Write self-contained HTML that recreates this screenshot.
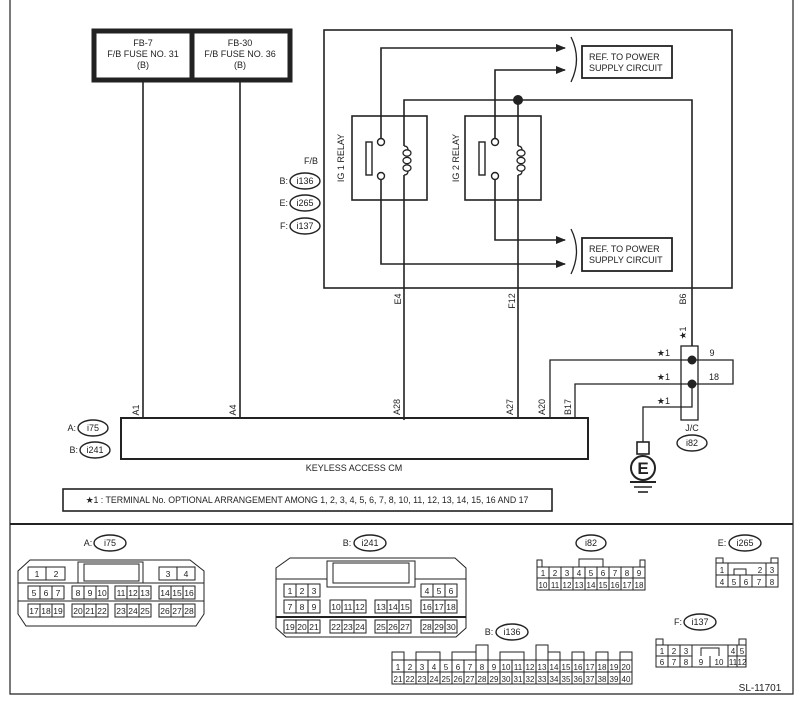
<!DOCTYPE html>
<html><head><meta charset="utf-8"><style>
html,body{margin:0;padding:0;background:#fff}
svg{display:block;font-family:"Liberation Sans",Arial,sans-serif}
text{fill:#222}
</style></head><body>
<svg width="803" height="704" viewBox="0 0 803 704" xmlns="http://www.w3.org/2000/svg">
<defs>
<marker id="ar" markerWidth="10" markerHeight="8" refX="9" refY="4" orient="auto" markerUnits="userSpaceOnUse">
<path d="M0,0 L10,4 L0,8 Z" fill="#222"/></marker>
</defs>
<g stroke="#222" fill="none">
<path d="M10,0 V694 H793 V0" stroke-width="1.2"/>
<line x1="10" y1="524" x2="793" y2="524" stroke-width="2"/>
<rect x="94" y="31" width="196" height="49" stroke-width="5" fill="#fff"/>
<line x1="192" y1="31" x2="192" y2="80" stroke-width="5"/>
<rect x="324" y="30" width="408" height="258" stroke-width="1.6"/>
<rect x="352" y="116" width="75" height="84" stroke-width="1.6" fill="#fff"/>
<rect x="465" y="116" width="76" height="84" stroke-width="1.6" fill="#fff"/>
<g stroke-width="1.6">
<line x1="143" y1="80" x2="143" y2="418"/>
<line x1="240" y1="80" x2="240" y2="418"/>
<path d="M381,138 V48 H565" marker-end="url(#ar)"/>
<path d="M495,138 V70 H565" marker-end="url(#ar)"/>
<path d="M381,180 V264 H565" marker-end="url(#ar)"/>
<path d="M495,180 V240 H565" marker-end="url(#ar)"/>
<path d="M404,146 V100 H692 V346"/>
<path d="M518,100 V146"/>
<path d="M404,175 V420"/>
<path d="M518,175 V418"/>
</g>
<circle cx="518" cy="100" r="4.5" fill="#222"/>
<g stroke-width="1.4" fill="#fff">
<circle cx="381" cy="142" r="3.5"/><circle cx="381" cy="176" r="3.5"/>
<circle cx="495" cy="142" r="3.5"/><circle cx="495" cy="176" r="3.5"/>
<rect x="366" y="142" width="6" height="33"/>
<rect x="479" y="142" width="6" height="33"/>
</g>
<g stroke-width="1.3">
<path d="M404,146 q4,0 4,4"/><path d="M404,175 q4,0 4,-4"/>
<ellipse cx="407" cy="153" rx="4" ry="3.2"/><ellipse cx="407" cy="160.5" rx="4" ry="3.2"/><ellipse cx="407" cy="168" rx="4" ry="3.2"/>
<path d="M518,146 q4,0 4,4"/><path d="M518,175 q4,0 4,-4"/>
<ellipse cx="521" cy="153" rx="4" ry="3.2"/><ellipse cx="521" cy="160.5" rx="4" ry="3.2"/><ellipse cx="521" cy="168" rx="4" ry="3.2"/>
</g>
<path d="M571,37 Q582,59 571,82" stroke-width="1.3"/>
<path d="M571,229 Q582,251 571,274" stroke-width="1.3"/>
<rect x="582" y="46" width="90" height="32" stroke-width="1.8"/>
<rect x="582" y="238" width="90" height="33" stroke-width="1.8"/>
<rect x="121" y="418" width="467" height="41" stroke-width="2"/>
<rect x="681" y="346" width="17" height="74" stroke-width="1.3"/>
<path d="M550,418 V360 H733 V384 H575 V418" stroke-width="1.3"/>
<path d="M692,384 V407 H643 V442" stroke-width="1.3"/>
<circle cx="692" cy="360" r="4" fill="#222"/>
<circle cx="692" cy="384" r="4" fill="#222"/>
<rect x="637" y="442" width="12" height="12" stroke-width="1.6" fill="#fff"/>
<circle cx="643" cy="468" r="12" stroke-width="2" fill="#fff"/>
<line x1="630" y1="482" x2="656" y2="482" stroke-width="2"/>
<line x1="634" y1="487" x2="652" y2="487" stroke-width="1.6"/>
<line x1="638" y1="492" x2="648" y2="492" stroke-width="1.6"/>
<ellipse cx="692" cy="443" rx="15" ry="8" stroke-width="1.4"/>
<g stroke-width="1.4">
<ellipse cx="305" cy="181" rx="15" ry="8"/>
<ellipse cx="305" cy="203" rx="15" ry="8"/>
<ellipse cx="305" cy="226" rx="15" ry="8"/>
<ellipse cx="93" cy="428" rx="15" ry="8"/>
<ellipse cx="95" cy="450" rx="15" ry="8"/>
</g>
<rect x="63" y="489" width="489" height="22" stroke-width="1.6"/>
</g>
<g font-size="9" text-anchor="middle">
<text x="143" y="46">FB-7</text><text x="143" y="57">F/B FUSE NO. 31</text><text x="143" y="68">(B)</text>
<text x="240" y="46">FB-30</text><text x="240" y="57">F/B FUSE NO. 36</text><text x="240" y="68">(B)</text>
<text x="589" y="60" text-anchor="start">REF. TO POWER</text>
<text x="589" y="71" text-anchor="start">SUPPLY CIRCUIT</text>
<text x="589" y="252" text-anchor="start">REF. TO POWER</text>
<text x="589" y="263" text-anchor="start">SUPPLY CIRCUIT</text>
<text x="311" y="164">F/B</text>
<text x="288" y="184" text-anchor="end">B:</text><text x="305" y="184">i136</text>
<text x="288" y="206" text-anchor="end">E:</text><text x="305" y="206">i265</text>
<text x="288" y="229" text-anchor="end">F:</text><text x="305" y="229">i137</text>
<text x="76" y="431" text-anchor="end">A:</text><text x="93" y="431">i75</text>
<text x="78" y="453" text-anchor="end">B:</text><text x="95" y="453">i241</text>
<text x="354" y="471">KEYLESS ACCESS CM</text>
<text x="692" y="431">J/C</text><text x="692" y="446">i82</text>
<text x="307" y="503" font-size="8.8">★1  : TERMINAL No. OPTIONAL ARRANGEMENT AMONG 1, 2, 3, 4, 5, 6, 7, 8, 10, 11, 12, 13, 14, 15, 16 AND 17</text>
<text x="670" y="356" text-anchor="end">★1</text><text x="712" y="356">9</text>
<text x="670" y="380" text-anchor="end">★1</text><text x="714" y="380">18</text>
<text x="670" y="404" text-anchor="end">★1</text>
<text x="760" y="691" font-size="10">SL-11701</text>
<g transform="rotate(-90)">
<text x="-158" y="344">IG 1 RELAY</text>
<text x="-158" y="459">IG 2 RELAY</text>
<text x="-299" y="401">E4</text>
<text x="-301" y="515">F12</text>
<text x="-299" y="686">B6</text>
<text x="-333" y="686">★1</text>
<text x="-410" y="139">A1</text>
<text x="-410" y="236">A4</text>
<text x="-407" y="400">A28</text>
<text x="-407" y="513">A27</text>
<text x="-407" y="545">A20</text>
<text x="-407" y="571">B17</text>
</g>
</g>
<text x="643" y="474" font-size="17" font-weight="bold" text-anchor="middle">E</text>
<g stroke="#222" fill="none" stroke-width="1">
<path d="M30,560 H190 L204,571 V614 L196,626 H26 L18,614 V571 Z"/>
<line x1="18" y1="583" x2="204" y2="583"/><line x1="18" y1="601" x2="204" y2="601"/>
<rect x="78" y="562" width="65" height="21"/><rect x="84" y="564" width="55" height="17"/>
<rect x="28" y="567" width="37" height="13"/><line x1="46" y1="567" x2="46" y2="580"/>
<rect x="159" y="567" width="36" height="13"/><line x1="177" y1="567" x2="177" y2="580"/>
<path d="M290,558 H455 L466,568 V628 L456,637 H286 L276,628 V568 Z"/>
<line x1="276" y1="579" x2="327" y2="579"/><line x1="415" y1="579" x2="466" y2="579"/>
<line x1="276" y1="617" x2="466" y2="617" stroke-width="2"/>
<rect x="327" y="561" width="88" height="26"/><rect x="333" y="563" width="76" height="20"/>
</g>
<g font-size="8.5" text-anchor="middle">
<text x="37" y="577">1</text><text x="56" y="577">2</text><text x="168" y="577">3</text><text x="186" y="577">4</text>
</g>
<g stroke="#222" fill="none" stroke-width="1">
<rect x="28" y="586" width="36" height="13"/><rect x="72" y="586" width="36" height="13"/><rect x="115" y="586" width="36" height="13"/><rect x="159" y="586" width="36" height="13"/>
<rect x="28" y="604" width="36" height="13"/><rect x="72" y="604" width="36" height="13"/><rect x="115" y="604" width="36" height="13"/><rect x="159" y="604" width="36" height="13"/>
<path d="M40,586v13M52,586v13M84,586v13M96,586v13M127,586v13M139,586v13M171,586v13M183,586v13"/>
<path d="M40,604v13M52,604v13M84,604v13M96,604v13M127,604v13M139,604v13M171,604v13M183,604v13"/>
<rect x="284" y="584" width="36" height="13"/><rect x="421" y="584" width="36" height="13"/>
<path d="M296,584v13M308,584v13M433,584v13M445,584v13"/>
<rect x="284" y="600" width="36" height="13"/><rect x="330" y="600" width="36" height="13"/><rect x="375" y="600" width="36" height="13"/><rect x="421" y="600" width="36" height="13"/>
<path d="M296,600v13M308,600v13M342,600v13M354,600v13M387,600v13M399,600v13M433,600v13M445,600v13"/>
<rect x="284" y="620" width="36" height="13"/><rect x="330" y="620" width="36" height="13"/><rect x="375" y="620" width="36" height="13"/><rect x="421" y="620" width="36" height="13"/>
<path d="M296,620v13M308,620v13M342,620v13M354,620v13M387,620v13M399,620v13M433,620v13M445,620v13"/>
<rect x="537" y="567" width="108" height="23"/><line x1="537" y1="578" x2="645" y2="578"/>
<path d="M549,567v23M561,567v23M573,567v23M585,567v23M597,567v23M609,567v23M621,567v23M633,567v23"/>
<path d="M537,567v-7h5v7M640,567v-7h5v7M579,567v-8h24v8"/>
<rect x="392" y="660" width="240" height="24"/><line x1="392" y1="672" x2="632" y2="672"/>
<path d="M404,660v24M416,660v24M428,660v24M440,660v24M452,660v24M464,660v24M476,660v24M488,660v24M500,660v24M512,660v24M524,660v24M536,660v24M548,660v24M560,660v24M572,660v24M584,660v24M596,660v24M608,660v24M620,660v24"/>
<path d="M392,660v-8h12v8M416,660v-8h24v8M452,660v-8h24v8M476,660v-15h12v15M500,660v-8h24v8M536,660v-15h12v15M548,660v-8h12v8M572,660v-8h12v8M596,660v-8h12v8M620,660v-8h12v8"/>
<rect x="716" y="563" width="62" height="24"/><line x1="716" y1="575" x2="778" y2="575"/>
<path d="M728,563v24M740,575v12M752,575v12M766,563v24"/>
<path d="M728,563h12M754,563H766"/>
<path d="M716,563v-5h7v5M771,563v-5h7v5M734,575v-6h12v6"/>
<rect x="656" y="645" width="90" height="22"/>
<path d="M656,656h36M728,656h18M668,645v22M680,645v22M692,645v22M710,656v11M728,645v22M737,645v22"/>
<path d="M656,645v-6h7v6M739,645v-6h7v6M701,656v-8h18v8"/>
</g>
<g font-size="8.5" text-anchor="middle">
<text x="34" y="596">5</text><text x="46" y="596">6</text><text x="58" y="596">7</text>
<text x="78" y="596">8</text><text x="90" y="596">9</text><text x="102" y="596">10</text>
<text x="121" y="596">11</text><text x="133" y="596">12</text><text x="145" y="596">13</text>
<text x="165" y="596">14</text><text x="177" y="596">15</text><text x="189" y="596">16</text>
<text x="34" y="614">17</text><text x="46" y="614">18</text><text x="58" y="614">19</text>
<text x="78" y="614">20</text><text x="90" y="614">21</text><text x="102" y="614">22</text>
<text x="121" y="614">23</text><text x="133" y="614">24</text><text x="145" y="614">25</text>
<text x="165" y="614">26</text><text x="177" y="614">27</text><text x="189" y="614">28</text>
<text x="290" y="594">1</text><text x="302" y="594">2</text><text x="314" y="594">3</text>
<text x="427" y="594">4</text><text x="439" y="594">5</text><text x="451" y="594">6</text>
<text x="290" y="610">7</text><text x="302" y="610">8</text><text x="314" y="610">9</text>
<text x="336" y="610">10</text><text x="348" y="610">11</text><text x="360" y="610">12</text>
<text x="381" y="610">13</text><text x="393" y="610">14</text><text x="405" y="610">15</text>
<text x="427" y="610">16</text><text x="439" y="610">17</text><text x="451" y="610">18</text>
<text x="290" y="630">19</text><text x="302" y="630">20</text><text x="314" y="630">21</text>
<text x="336" y="630">22</text><text x="348" y="630">23</text><text x="360" y="630">24</text>
<text x="381" y="630">25</text><text x="393" y="630">26</text><text x="405" y="630">27</text>
<text x="427" y="630">28</text><text x="439" y="630">29</text><text x="451" y="630">30</text>
</g>
<g font-size="8" text-anchor="middle">
<text x="543" y="576">1</text><text x="555" y="576">2</text><text x="567" y="576">3</text><text x="579" y="576">4</text><text x="591" y="576">5</text><text x="603" y="576">6</text><text x="615" y="576">7</text><text x="627" y="576">8</text><text x="639" y="576">9</text>
<text x="543" y="588">10</text><text x="555" y="588">11</text><text x="567" y="588">12</text><text x="579" y="588">13</text><text x="591" y="588">14</text><text x="603" y="588">15</text><text x="615" y="588">16</text><text x="627" y="588">17</text><text x="639" y="588">18</text>
<text x="398" y="670">1</text><text x="410" y="670">2</text><text x="422" y="670">3</text><text x="434" y="670">4</text><text x="446" y="670">5</text><text x="458" y="670">6</text><text x="470" y="670">7</text><text x="482" y="670">8</text><text x="494" y="670">9</text><text x="506" y="670">10</text><text x="518" y="670">11</text><text x="530" y="670">12</text><text x="542" y="670">13</text><text x="554" y="670">14</text><text x="566" y="670">15</text><text x="578" y="670">16</text><text x="590" y="670">17</text><text x="602" y="670">18</text><text x="614" y="670">19</text><text x="626" y="670">20</text>
<text x="398" y="682">21</text><text x="410" y="682">22</text><text x="422" y="682">23</text><text x="434" y="682">24</text><text x="446" y="682">25</text><text x="458" y="682">26</text><text x="470" y="682">27</text><text x="482" y="682">28</text><text x="494" y="682">29</text><text x="506" y="682">30</text><text x="518" y="682">31</text><text x="530" y="682">32</text><text x="542" y="682">33</text><text x="554" y="682">34</text><text x="566" y="682">35</text><text x="578" y="682">36</text><text x="590" y="682">37</text><text x="602" y="682">38</text><text x="614" y="682">39</text><text x="626" y="682">40</text>
<text x="722" y="573">1</text><text x="760" y="573">2</text><text x="772" y="573">3</text>
<text x="722" y="585">4</text><text x="734" y="585">5</text><text x="746" y="585">6</text><text x="759" y="585">7</text><text x="772" y="585">8</text>
<text x="662" y="654">1</text><text x="674" y="654">2</text><text x="686" y="654">3</text><text x="733" y="654">4</text><text x="742" y="654">5</text>
<text x="662" y="665">6</text><text x="674" y="665">7</text><text x="686" y="665">8</text><text x="701" y="665">9</text><text x="719" y="665">10</text><text x="733" y="665">11</text><text x="742" y="665">12</text>
</g>
<g stroke="#222" fill="none" stroke-width="1.4">
<ellipse cx="110" cy="543" rx="16" ry="8"/>
<ellipse cx="370" cy="543" rx="16" ry="8"/>
<ellipse cx="591" cy="543" rx="15" ry="8"/>
<ellipse cx="745" cy="543" rx="16" ry="8"/>
<ellipse cx="512" cy="632" rx="16" ry="8"/>
<ellipse cx="700" cy="622" rx="16" ry="8"/>
</g>
<g font-size="9" text-anchor="middle">
<text x="88" y="546">A:</text><text x="110" y="546">i75</text>
<text x="347" y="546">B:</text><text x="370" y="546">i241</text>
<text x="591" y="546">i82</text>
<text x="722" y="546">E:</text><text x="745" y="546">i265</text>
<text x="489" y="635">B:</text><text x="512" y="635">i136</text>
<text x="678" y="625">F:</text><text x="700" y="625">i137</text>
</g>
</svg>
</body></html>
